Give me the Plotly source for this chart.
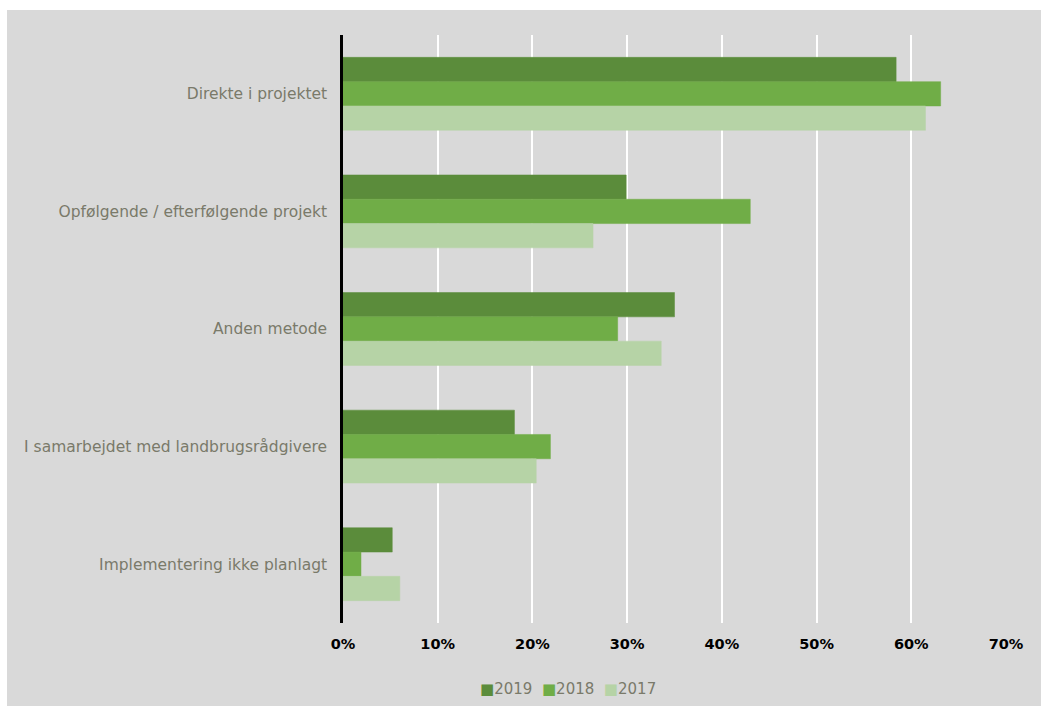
import plotly.graph_objects as go

# categories top to bottom
categories = [
    "Direkte i projektet",
    "Opfølgende / efterfølgende projekt",
    "Anden metode",
    "I samarbejdet med landbrugsrådgivere",
    "Implementering ikke planlagt",
]
years = ["2019", "2018", "2017"]
v2019 = [0.584, 0.299, 0.350, 0.181, 0.052]
v2018 = [0.631, 0.430, 0.290, 0.219, 0.019]
v2017 = [0.615, 0.264, 0.336, 0.204, 0.060]
colors = ["#5b8c3b", "#70ad47", "#b6d3a6"]

W, H = 1041, 706
L, R, T, B = 343, 35, 35, 83
pw, ph = W - L - R, H - T - B

fig = go.Figure()
for name, vals, col in zip(years, [v2019, v2018, v2017], colors):
    fig.add_trace(go.Bar(
        y=categories, x=vals, name=name, orientation="h", showlegend=False,
        marker=dict(color=col, line=dict(color=col, width=0.5)),
    ))

# compact legend like the original: small square key right before each year
legend_text = "&nbsp; ".join(
    f"<span style='color:{c}'>■</span>{n}" for n, c in zip(years, colors)
)
fig.add_annotation(
    text=legend_text, xref="paper", yref="paper", x=(568 - L) / pw, y=-(689 - T - ph) / ph,
    xanchor="center", yanchor="middle", showarrow=False,
    font=dict(family="DejaVu Sans", size=15, color="#7a7a6a"),
)

# white page edge above and left of the grey chart area
fig.add_shape(type="rect", xref="paper", yref="paper", layer="below",
              x0=-L / pw, x1=(W - L) / pw, y0=1 + (T - 10) / ph, y1=1 + T / ph,
              fillcolor="white", line_width=0)
fig.add_shape(type="rect", xref="paper", yref="paper", layer="below",
              x0=-L / pw, x1=(7 - L) / pw, y0=-B / ph, y1=1 + T / ph,
              fillcolor="white", line_width=0)

fig.update_layout(
    width=W, height=H,
    margin=dict(l=L, r=R, t=T, b=B),
    paper_bgcolor="#d9d9d9", plot_bgcolor="#d9d9d9",
    barmode="group", bargap=0.38, bargroupgap=0,
    font=dict(family="DejaVu Sans", size=15, color="#7a7a6a"),
    showlegend=False,
)
fig.update_xaxes(
    range=[0, 0.7], dtick=0.1, tickformat=".0%",
    showgrid=True, gridcolor="white", gridwidth=1.5,
    zeroline=False, showline=False,
    tickfont=dict(family="DejaVu Sans", size=14.5, color="black", weight="bold"),
    ticklabelstandoff=10, fixedrange=True,
)
fig.update_yaxes(
    autorange="reversed", showline=True, linecolor="black", linewidth=2.5,
    showgrid=False, ticks="", ticklabelstandoff=10,
    tickfont=dict(size=15.5, color="#7a7a6a"),
)

fig.write_html(
    "out.html",
    config={"displayModeBar": False},
    post_script="document.body.style.margin='0';document.body.style.overflow='hidden';",
)
